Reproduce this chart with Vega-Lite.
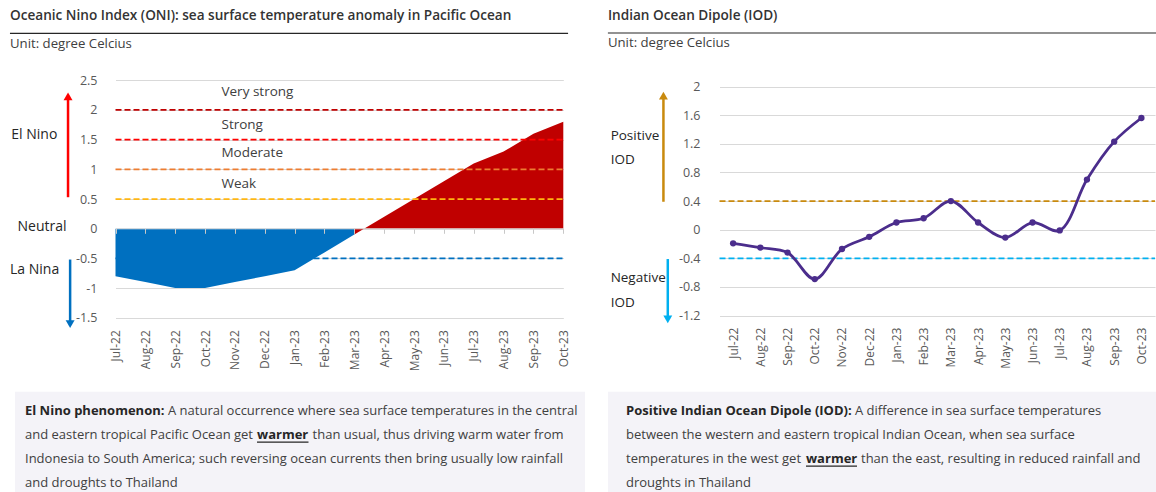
{
  "$schema": "https://vega.github.io/schema/vega-lite/v6.json",
  "width": 1156,
  "height": 492,
  "autosize": {"type": "none"},
  "padding": 0,
  "background": "white",
  "config": {"view": {"stroke": null}, "font": "Open Sans"},
  "datasets": {
    "oni": [
      {"month": "Jul-22", "oni": -0.8}, {"month": "Aug-22", "oni": -0.9}, {"month": "Sep-22", "oni": -1.0},
      {"month": "Oct-22", "oni": -1.0}, {"month": "Nov-22", "oni": -0.9}, {"month": "Dec-22", "oni": -0.8},
      {"month": "Jan-23", "oni": -0.7}, {"month": "Feb-23", "oni": -0.4}, {"month": "Mar-23", "oni": -0.1},
      {"month": "Apr-23", "oni": 0.2}, {"month": "May-23", "oni": 0.5}, {"month": "Jun-23", "oni": 0.8},
      {"month": "Jul-23", "oni": 1.1}, {"month": "Aug-23", "oni": 1.3}, {"month": "Sep-23", "oni": 1.6},
      {"month": "Oct-23", "oni": 1.8}
    ],
    "iod": [
      {"month": "Jul-22", "iod": -0.19}, {"month": "Aug-22", "iod": -0.25}, {"month": "Sep-22", "iod": -0.32},
      {"month": "Oct-22", "iod": -0.69}, {"month": "Nov-22", "iod": -0.27}, {"month": "Dec-22", "iod": -0.1},
      {"month": "Jan-23", "iod": 0.1}, {"month": "Feb-23", "iod": 0.16}, {"month": "Mar-23", "iod": 0.4},
      {"month": "Apr-23", "iod": 0.1}, {"month": "May-23", "iod": -0.11}, {"month": "Jun-23", "iod": 0.1},
      {"month": "Jul-23", "iod": -0.01}, {"month": "Aug-23", "iod": 0.7}, {"month": "Sep-23", "iod": 1.23},
      {"month": "Oct-23", "iod": 1.56}
    ],
    "noteL": [
      {"line": 1, "part": "lead", "text": "El Nino phenomenon:"},
      {"line": 1, "part": "body", "text": "A natural occurrence where sea surface temperatures in the central"},
      {"line": 2, "part": "start", "text": "and eastern tropical Pacific Ocean get"},
      {"line": 2, "part": "em", "text": "warmer"},
      {"line": 2, "part": "post", "text": "than usual, thus driving warm water from"},
      {"line": 3, "part": "start", "text": "Indonesia to South America; such reversing ocean currents then bring usually low rainfall"},
      {"line": 4, "part": "start", "text": "and droughts to Thailand"}
    ],
    "noteR": [
      {"line": 1, "part": "lead", "text": "Positive Indian Ocean Dipole (IOD):"},
      {"line": 1, "part": "body", "text": "A difference in sea surface temperatures"},
      {"line": 2, "part": "start", "text": "between the western and eastern tropical Indian Ocean, when sea surface"},
      {"line": 3, "part": "start", "text": "temperatures in the west get"},
      {"line": 3, "part": "em", "text": "warmer"},
      {"line": 3, "part": "post", "text": "than the east, resulting in reduced rainfall and"},
      {"line": 4, "part": "start", "text": "droughts in Thailand"}
    ]
  },
  "data": {"values": [{}]},
  "layer": [
    {
      "layer": [
        {
          "data": {"name": "oni"},
          "layer": [
            {
              "transform": [{"filter": "datum.oni < 0"}],
              "mark": {"type": "area", "color": "#0070C0", "opacity": 1},
              "encoding": {
                "x": {"field": "month", "type": "ordinal",
                  "scale": {"type": "point", "domain": ["Jul-22","Aug-22","Sep-22","Oct-22","Nov-22","Dec-22","Jan-23","Feb-23","Mar-23","Apr-23","May-23","Jun-23","Jul-23","Aug-23","Sep-23","Oct-23"], "range": [115.5, 563.3], "padding": 0},
                  "axis": {"orient": "bottom", "offset": -174.3, "labelAngle": -90, "labelAlign": "right", "labelBaseline": "middle", "labelPadding": 12, "domain": false, "ticks": false, "grid": false, "title": null, "labelColor": "#595959", "labelFontSize": 12}},
                "y": {"field": "oni", "type": "quantitative",
                  "scale": {"domain": [-1.5, 2.5], "range": [317.7, 80.3], "nice": false, "zero": false},
                  "axis": {"orient": "left", "offset": -115.5, "values": [-1.5, -1, -0.5, 0, 0.5, 1, 1.5, 2, 2.5], "labelExpr": "'' + datum.value", "grid": true, "gridColor": "#d9d9d9", "domain": false, "ticks": false, "labelPadding": 18.5, "title": null, "labelColor": "#595959", "labelFontSize": 12.5}}
              }
            },
            {
              "transform": [{"filter": "datum.oni >= -0.1"}],
              "mark": {"type": "area", "color": "#C00000", "opacity": 1},
              "encoding": {
                "x": {"field": "month", "type": "ordinal"},
                "y": {"field": "oni", "type": "quantitative"}
              }
            }
          ]
        },
        {
          "layer": [
            {"mark": {"type": "rule", "color": "#C00000", "strokeWidth": 1.75, "strokeDash": [6, 3]},
             "encoding": {
               "x": {"datum": 0, "type": "quantitative", "scale": {"domain": [0, 15], "range": [115.5, 563.3], "nice": false, "zero": false},
                 "axis": {"orient": "bottom", "offset": -263.7, "values": [0,1,2,3,4,5,6,7,8,9,10,11,12,13,14,15], "labels": false, "grid": false, "domain": true, "domainColor": "#d9d9d9", "ticks": true, "tickColor": "#c8c8c8", "tickSize": 5, "title": null, "zindex": 1}},
               "x2": {"datum": 15}, "y": {"datum": 2, "type": "quantitative"}}},
            {"mark": {"type": "rule", "color": "#FF0000", "strokeWidth": 1.75, "strokeDash": [6, 3]},
             "encoding": {"x": {"datum": 0, "type": "quantitative"}, "x2": {"datum": 15}, "y": {"datum": 1.5, "type": "quantitative"}}},
            {"mark": {"type": "rule", "color": "#ED7D31", "strokeWidth": 1.75, "strokeDash": [6, 3]},
             "encoding": {"x": {"datum": 0, "type": "quantitative"}, "x2": {"datum": 15}, "y": {"datum": 1, "type": "quantitative"}}},
            {"mark": {"type": "rule", "color": "#FFB612", "strokeWidth": 1.75, "strokeDash": [6, 3]},
             "encoding": {"x": {"datum": 0, "type": "quantitative"}, "x2": {"datum": 15}, "y": {"datum": 0.5, "type": "quantitative"}}},
            {"mark": {"type": "rule", "color": "#0070C0", "strokeWidth": 1.75, "strokeDash": [6, 3]},
             "encoding": {"x": {"datum": 0, "type": "quantitative"}, "x2": {"datum": 15}, "y": {"datum": -0.5, "type": "quantitative"}}},
            {"mark": {"type": "text", "text": "Very strong", "align": "left", "baseline": "middle", "fontSize": 13.5, "color": "#404040"},
             "encoding": {"x": {"datum": 3.55, "type": "quantitative"}, "y": {"datum": 2.3, "type": "quantitative"}}},
            {"mark": {"type": "text", "text": "Strong", "align": "left", "baseline": "middle", "fontSize": 13.5, "color": "#404040"},
             "encoding": {"x": {"datum": 3.55, "type": "quantitative"}, "y": {"datum": 1.74, "type": "quantitative"}}},
            {"mark": {"type": "text", "text": "Moderate", "align": "left", "baseline": "middle", "fontSize": 13.5, "color": "#404040"},
             "encoding": {"x": {"datum": 3.55, "type": "quantitative"}, "y": {"datum": 1.27, "type": "quantitative"}}},
            {"mark": {"type": "text", "text": "Weak", "align": "left", "baseline": "middle", "fontSize": 13.5, "color": "#404040"},
             "encoding": {"x": {"datum": 3.55, "type": "quantitative"}, "y": {"datum": 0.76, "type": "quantitative"}}},
            {"mark": {"type": "text", "text": "El Nino", "align": "center", "baseline": "middle", "fontSize": 14, "color": "#262626"},
             "encoding": {"x": {"datum": -2.72, "type": "quantitative"}, "y": {"datum": 1.57, "type": "quantitative"}}},
            {"mark": {"type": "text", "text": "Neutral", "align": "center", "baseline": "middle", "fontSize": 14, "color": "#262626"},
             "encoding": {"x": {"datum": -2.46, "type": "quantitative"}, "y": {"datum": 0.02, "type": "quantitative"}}},
            {"mark": {"type": "text", "text": "La Nina", "align": "center", "baseline": "middle", "fontSize": 14, "color": "#262626"},
             "encoding": {"x": {"datum": -2.71, "type": "quantitative"}, "y": {"datum": -0.7, "type": "quantitative"}}},
            {"mark": {"type": "rule", "color": "#FF0000", "strokeWidth": 2.5},
             "encoding": {"x": {"datum": -1.59, "type": "quantitative"}, "y": {"datum": 0.53, "type": "quantitative"}, "y2": {"datum": 2.2}}},
            {"mark": {"type": "point", "shape": "triangle-up", "filled": true, "color": "#FF0000", "size": 80, "opacity": 1},
             "encoding": {"x": {"datum": -1.59, "type": "quantitative"}, "y": {"datum": 2.23, "type": "quantitative"}}},
            {"mark": {"type": "rule", "color": "#0070C0", "strokeWidth": 2.5},
             "encoding": {"x": {"datum": -1.52, "type": "quantitative"}, "y": {"datum": -0.52, "type": "quantitative"}, "y2": {"datum": -1.58}}},
            {"mark": {"type": "point", "shape": "triangle-down", "filled": true, "color": "#0070C0", "size": 80, "opacity": 1},
             "encoding": {"x": {"datum": -1.52, "type": "quantitative"}, "y": {"datum": -1.61, "type": "quantitative"}}},
            {"mark": {"type": "text", "text": "Oceanic Nino Index (ONI): sea surface temperature anomaly in Pacific Ocean", "align": "left", "baseline": "middle", "fontSize": 13.6, "fontWeight": 600, "color": "#333333"},
             "encoding": {"x": {"datum": -3.535, "type": "quantitative"}, "y": {"datum": 3.577, "type": "quantitative"}}},
            {"mark": {"type": "rule", "color": "#262626", "strokeWidth": 1.2},
             "encoding": {"x": {"datum": -3.535, "type": "quantitative"}, "x2": {"datum": 15.16}, "y": {"datum": 3.29, "type": "quantitative"}}},
            {"mark": {"type": "text", "text": "Unit: degree Celcius", "align": "left", "baseline": "middle", "fontSize": 13.2, "color": "#404040"},
             "encoding": {"x": {"datum": -3.535, "type": "quantitative"}, "y": {"datum": 3.12, "type": "quantitative"}}}
          ]
        }
      ],
      "resolve": {"scale": {"x": "independent"}, "axis": {"x": "independent"}}
    },
    {
      "layer": [
        {
          "layer": [
            {"mark": {"type": "rule", "color": "#C98A0E", "strokeWidth": 1.75, "strokeDash": [6, 3]},
             "encoding": {
               "x": {"datum": -0.5, "type": "quantitative", "scale": {"domain": [-0.5, 15.5], "range": [719.5, 1155], "nice": false, "zero": false}, "axis": null},
               "x2": {"datum": 15.5},
               "y": {"datum": 0.4, "type": "quantitative"}}},
            {"mark": {"type": "rule", "color": "#00B0F0", "strokeWidth": 1.75, "strokeDash": [6, 3]},
             "encoding": {"x": {"datum": -0.5, "type": "quantitative", "axis": null}, "x2": {"datum": 15.5}, "y": {"datum": -0.4, "type": "quantitative"}}},
            {"mark": {"type": "text", "text": "Positive", "align": "left", "baseline": "middle", "fontSize": 13.5, "color": "#262626"},
             "encoding": {"x": {"datum": -4.5, "type": "quantitative", "axis": null}, "y": {"datum": 1.31, "type": "quantitative"}}},
            {"mark": {"type": "text", "text": "IOD", "align": "left", "baseline": "middle", "fontSize": 13.5, "color": "#262626"},
             "encoding": {"x": {"datum": -4.5, "type": "quantitative", "axis": null}, "y": {"datum": 0.97, "type": "quantitative"}}},
            {"mark": {"type": "text", "text": "Negative", "align": "left", "baseline": "middle", "fontSize": 13.5, "color": "#262626"},
             "encoding": {"x": {"datum": -4.5, "type": "quantitative", "axis": null}, "y": {"datum": -0.68, "type": "quantitative"}}},
            {"mark": {"type": "text", "text": "IOD", "align": "left", "baseline": "middle", "fontSize": 13.5, "color": "#262626"},
             "encoding": {"x": {"datum": -4.5, "type": "quantitative", "axis": null}, "y": {"datum": -1.03, "type": "quantitative"}}},
            {"mark": {"type": "rule", "color": "#C98A0E", "strokeWidth": 2.5},
             "encoding": {"x": {"datum": -2.56, "type": "quantitative", "axis": null}, "y": {"datum": 0.39, "type": "quantitative"}, "y2": {"datum": 1.85}}},
            {"mark": {"type": "point", "shape": "triangle-up", "filled": true, "color": "#C98A0E", "size": 80, "opacity": 1},
             "encoding": {"x": {"datum": -2.56, "type": "quantitative", "axis": null}, "y": {"datum": 1.873, "type": "quantitative"}}},
            {"mark": {"type": "rule", "color": "#00B0F0", "strokeWidth": 2.5},
             "encoding": {"x": {"datum": -2.4, "type": "quantitative", "axis": null}, "y": {"datum": -0.41, "type": "quantitative"}, "y2": {"datum": -1.23}}},
            {"mark": {"type": "point", "shape": "triangle-down", "filled": true, "color": "#00B0F0", "size": 80, "opacity": 1},
             "encoding": {"x": {"datum": -2.4, "type": "quantitative", "axis": null}, "y": {"datum": -1.253, "type": "quantitative"}}},
            {"mark": {"type": "text", "text": "Indian Ocean Dipole (IOD)", "align": "left", "baseline": "middle", "fontSize": 13.6, "fontWeight": 600, "color": "#333333"},
             "encoding": {"x": {"datum": -4.6, "type": "quantitative", "axis": null}, "y": {"datum": 2.985, "type": "quantitative"}}},
            {"mark": {"type": "rule", "color": "#262626", "strokeWidth": 1.2},
             "encoding": {"x": {"datum": -4.6, "type": "quantitative", "axis": null}, "x2": {"datum": 15.54}, "y": {"datum": 2.747, "type": "quantitative"}}},
            {"mark": {"type": "text", "text": "Unit: degree Celcius", "align": "left", "baseline": "middle", "fontSize": 13.2, "color": "#404040"},
             "encoding": {"x": {"datum": -4.6, "type": "quantitative", "axis": null}, "y": {"datum": 2.607, "type": "quantitative"}}}
          ]
        },
        {
          "data": {"name": "iod"},
          "layer": [
            {
              "mark": {"type": "line", "interpolate": "catmull-rom", "color": "#4B2D8C", "strokeWidth": 2.8},
              "encoding": {
                "x": {"field": "month", "type": "ordinal",
                  "scale": {"type": "point", "domain": ["Jul-22","Aug-22","Sep-22","Oct-22","Nov-22","Dec-22","Jan-23","Feb-23","Mar-23","Apr-23","May-23","Jun-23","Jul-23","Aug-23","Sep-23","Oct-23"], "range": [719.5, 1155], "padding": 0.5},
                  "axis": {"orient": "bottom", "offset": -176.4, "labelAngle": -90, "labelAlign": "right", "labelBaseline": "middle", "labelPadding": 11.5, "domain": false, "ticks": false, "grid": false, "title": null, "labelColor": "#595959", "labelFontSize": 12}},
                "y": {"field": "iod", "type": "quantitative",
                  "scale": {"domain": [-1.2, 2], "range": [315.6, 86.5], "nice": false, "zero": false},
                  "axis": {"orient": "left", "offset": -719.5, "values": [-1.2, -0.8, -0.4, 0, 0.4, 0.8, 1.2, 1.6, 2], "labelExpr": "'' + datum.value", "grid": true, "gridColor": "#d9d9d9", "domain": false, "ticks": false, "labelPadding": 19.5, "title": null, "labelColor": "#595959", "labelFontSize": 12.5}}
              }
            },
            {
              "mark": {"type": "point", "filled": true, "color": "#4B2D8C", "size": 40, "opacity": 1},
              "encoding": {
                "x": {"field": "month", "type": "ordinal"},
                "y": {"field": "iod", "type": "quantitative"}
              }
            }
          ]
        }
      ],
      "resolve": {"scale": {"x": "independent"}, "axis": {"x": "independent"}}
    },
    {
      "layer": [
        {"mark": {"type": "rect", "color": "#F4F3F8", "opacity": 1},
         "encoding": {
           "x": {"datum": 0, "type": "quantitative", "scale": {"domain": [0, 1], "range": [15, 585], "nice": false, "zero": false}, "axis": null},
           "x2": {"datum": 1},
           "y": {"datum": 0.2, "type": "quantitative", "scale": {"domain": [1, 4], "range": [411, 483], "nice": false, "zero": false}, "axis": null},
           "y2": {"datum": 4.5}}},
        {"data": {"name": "noteL"}, "transform": [{"filter": "datum.part === 'lead'"}],
         "mark": {"type": "text", "align": "left", "baseline": "middle", "fontSize": 13, "fontWeight": "bold", "color": "#262626"},
         "encoding": {"x": {"datum": 0.01754, "type": "quantitative", "axis": null}, "y": {"field": "line", "type": "quantitative", "axis": null}, "text": {"field": "text"}}},
        {"data": {"name": "noteL"}, "transform": [{"filter": "datum.part === 'body'"}],
         "mark": {"type": "text", "align": "left", "baseline": "middle", "fontSize": 13, "color": "#404040"},
         "encoding": {"x": {"datum": 0.2684, "type": "quantitative", "axis": null}, "y": {"field": "line", "type": "quantitative", "axis": null}, "text": {"field": "text"}}},
        {"data": {"name": "noteL"}, "transform": [{"filter": "datum.part === 'start'"}],
         "mark": {"type": "text", "align": "left", "baseline": "middle", "fontSize": 13, "color": "#404040"},
         "encoding": {"x": {"datum": 0.01754, "type": "quantitative", "axis": null}, "y": {"field": "line", "type": "quantitative", "axis": null}, "text": {"field": "text"}}},
        {"data": {"name": "noteL"}, "transform": [{"filter": "datum.part === 'em'"}],
         "mark": {"type": "text", "align": "left", "baseline": "middle", "fontSize": 13, "fontWeight": "bold", "color": "#262626"},
         "encoding": {"x": {"datum": 0.4246, "type": "quantitative", "axis": null}, "y": {"field": "line", "type": "quantitative", "axis": null}, "text": {"field": "text"}}},
        {"data": {"name": "noteL"}, "transform": [{"filter": "datum.part === 'post'"}],
         "mark": {"type": "text", "align": "left", "baseline": "middle", "fontSize": 13, "color": "#404040"},
         "encoding": {"x": {"datum": 0.5221, "type": "quantitative", "axis": null}, "y": {"field": "line", "type": "quantitative", "axis": null}, "text": {"field": "text"}}},
        {"mark": {"type": "rule", "color": "#262626", "strokeWidth": 1.2},
         "encoding": {"x": {"datum": 0.4246, "type": "quantitative", "axis": null}, "x2": {"datum": 0.5149}, "y": {"datum": 2.3, "type": "quantitative", "axis": null}}}
      ]
    },
    {
      "layer": [
        {"mark": {"type": "rect", "color": "#F4F3F8", "opacity": 1},
         "encoding": {
           "x": {"datum": 0, "type": "quantitative", "scale": {"domain": [0, 1], "range": [608, 1156], "nice": false, "zero": false}, "axis": null},
           "x2": {"datum": 1},
           "y": {"datum": 0.2, "type": "quantitative", "scale": {"domain": [1, 4], "range": [411, 483], "nice": false, "zero": false}, "axis": null},
           "y2": {"datum": 4.5}}},
        {"data": {"name": "noteR"}, "transform": [{"filter": "datum.part === 'lead'"}],
         "mark": {"type": "text", "align": "left", "baseline": "middle", "fontSize": 13, "fontWeight": "bold", "color": "#262626"},
         "encoding": {"x": {"datum": 0.03285, "type": "quantitative", "axis": null}, "y": {"field": "line", "type": "quantitative", "axis": null}, "text": {"field": "text"}}},
        {"data": {"name": "noteR"}, "transform": [{"filter": "datum.part === 'body'"}],
         "mark": {"type": "text", "align": "left", "baseline": "middle", "fontSize": 13, "color": "#404040"},
         "encoding": {"x": {"datum": 0.4507, "type": "quantitative", "axis": null}, "y": {"field": "line", "type": "quantitative", "axis": null}, "text": {"field": "text"}}},
        {"data": {"name": "noteR"}, "transform": [{"filter": "datum.part === 'start'"}],
         "mark": {"type": "text", "align": "left", "baseline": "middle", "fontSize": 13, "color": "#404040"},
         "encoding": {"x": {"datum": 0.03285, "type": "quantitative", "axis": null}, "y": {"field": "line", "type": "quantitative", "axis": null}, "text": {"field": "text"}}},
        {"data": {"name": "noteR"}, "transform": [{"filter": "datum.part === 'em'"}],
         "mark": {"type": "text", "align": "left", "baseline": "middle", "fontSize": 13, "fontWeight": "bold", "color": "#262626"},
         "encoding": {"x": {"datum": 0.3613, "type": "quantitative", "axis": null}, "y": {"field": "line", "type": "quantitative", "axis": null}, "text": {"field": "text"}}},
        {"data": {"name": "noteR"}, "transform": [{"filter": "datum.part === 'post'"}],
         "mark": {"type": "text", "align": "left", "baseline": "middle", "fontSize": 13, "color": "#404040"},
         "encoding": {"x": {"datum": 0.4617, "type": "quantitative", "axis": null}, "y": {"field": "line", "type": "quantitative", "axis": null}, "text": {"field": "text"}}},
        {"mark": {"type": "rule", "color": "#262626", "strokeWidth": 1.2},
         "encoding": {"x": {"datum": 0.3613, "type": "quantitative", "axis": null}, "x2": {"datum": 0.4544}, "y": {"datum": 3.3, "type": "quantitative", "axis": null}}}
      ]
    }
  ],
  "resolve": {"scale": {"x": "independent", "y": "independent"}, "axis": {"x": "independent", "y": "independent"}}
}
